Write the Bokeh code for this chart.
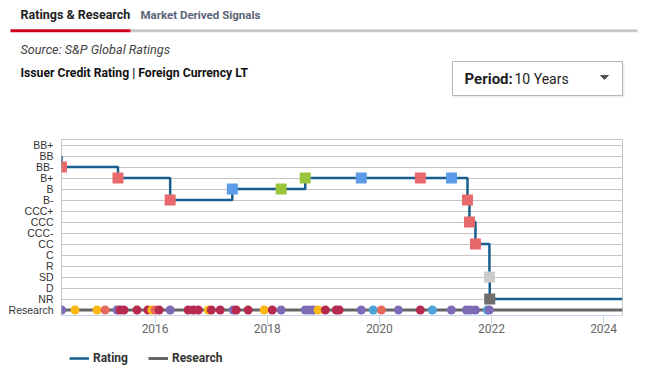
import pandas as pd
from bokeh.plotting import figure
from bokeh.models import (FactorRange, Range1d, FixedTicker, DatetimeTickFormatter,
                          Label, Legend, LegendItem, ColumnDataSource)
from bokeh.layouts import column, row
from bokeh.embed import file_html
from bokeh.resources import INLINE

# ---------------- data ----------------
rating_scale = ["Research", "NR", "D", "SD", "R", "C", "CC", "CCC-", "CCC", "CCC+",
                "B-", "B", "B+", "BB-", "BB", "BB+"]
period_start = "2014-05-01"
period_end = "2024-05-03"
prior_rating = "BB"
rating_dates = ["2014-05-01", "2015-05-04", "2016-04-08", "2017-05-18", "2018-04-01",
                "2018-09-05", "2019-09-05", "2020-09-24", "2021-04-15", "2021-07-28",
                "2021-08-10", "2021-09-18", "2021-12-18", "2021-12-20"]
rating_values = ["BB-", "B+", "B-", "B", "B", "B+", "B+", "B+", "B+", "B-",
                 "CCC", "CC", "SD", "NR"]
rating_actions = ["negative", "negative", "negative", "neutral", "positive",
                  "positive", "neutral", "negative", "neutral", "negative",
                  "negative", "negative", "default", "not rated"]

research_dates = ["2014-05-02", "2014-07-28", "2014-12-18", "2015-02-09", "2015-04-28",
                  "2015-05-18", "2015-06-12", "2015-09-05", "2015-11-15", "2015-12-11",
                  "2016-01-01", "2016-01-27", "2016-04-08", "2016-08-03", "2016-09-05",
                  "2016-10-08", "2016-12-12", "2017-01-01", "2017-02-28", "2017-05-24",
                  "2017-06-12", "2017-08-29", "2017-12-11", "2018-02-02", "2018-04-01",
                  "2018-09-05", "2018-10-01", "2018-10-27", "2018-11-28", "2019-01-14",
                  "2019-03-26", "2019-04-14", "2019-09-05", "2019-11-22", "2020-01-14",
                  "2020-05-04", "2020-09-24", "2020-12-11", "2021-04-14", "2021-07-21",
                  "2021-08-16", "2021-09-18", "2021-12-05", "2021-12-18"]
research_kinds = ["purple", "yellow", "yellow", "salmon", "purple",
                  "crimson", "crimson", "crimson", "crimson", "yellow",
                  "salmon", "crimson", "purple", "crimson", "crimson",
                  "crimson", "yellow", "crimson", "crimson", "purple",
                  "crimson", "crimson", "yellow", "crimson", "purple",
                  "purple", "purple", "purple", "yellow", "crimson",
                  "crimson", "crimson", "purple", "blue", "salmon",
                  "purple", "crimson", "blue", "purple", "purple",
                  "purple", "purple", "blue", "purple"]
x_tick_dates = ["2016-01-01", "2018-01-01", "2020-01-01", "2022-01-01", "2024-01-01"]
legend_labels = ["Rating", "Research"]

# ---------------- styles ----------------
action_colors = {"negative": "#e8696b", "neutral": "#5b9be8", "positive": "#9bc53d",
                 "default": "#cbcbcb", "not rated": "#6e6e6e"}
research_colors = {"purple": "#7f6bb5", "yellow": "#fdb913", "salmon": "#e6695b",
                   "crimson": "#b72a50", "blue": "#4ba3d9"}
RATING_LINE = "#1a5e8f"
RESEARCH_LINE = "#666666"
FONT = "Roboto"
W = 640


def blank_figure(height):
    f = figure(width=W, height=height, x_range=Range1d(0, W), y_range=Range1d(height, 0),
               toolbar_location=None, output_backend="svg", min_border=0,
               min_border_left=0, min_border_right=0, min_border_top=0,
               min_border_bottom=0, x_axis_location=None, y_axis_location=None)
    f.grid.visible = False
    f.outline_line_color = None
    f.background_fill_color = "white"
    f.border_fill_color = "white"
    return f


# ---------------- header (page pixel coordinates) ----------------
HH = 120
h = blank_figure(HH)
h.line([130, 637], [30.3, 30.3], line_width=3, line_color="#c8c8c8")
h.line([10, 130], [30.3, 30.3], line_width=3, line_color="#d0021b")

h.add_layout(Label(x=20, y=14, text="Ratings & Research", text_baseline="middle",
                   text_font=FONT, text_font_size="12.5px", text_font_style="bold",
                   text_color="#222222"))
h.add_layout(Label(x=140, y=14, text="Market Derived Signals", text_baseline="middle",
                   text_font=FONT, text_font_size="11.5px", text_font_style="bold",
                   text_color="#5a6478"))
h.add_layout(Label(x=20, y=49, text="Source: S&P Global Ratings", text_baseline="middle",
                   text_font=FONT, text_font_size="12.7px", text_font_style="italic",
                   text_color="#444444"))
h.add_layout(Label(x=20, y=72, text="Issuer Credit Rating | Foreign Currency LT",
                   text_baseline="middle", text_font=FONT, text_font_size="12.2px",
                   text_font_style="bold", text_color="#111111"))

h.quad(left=453, right=624, top=63, bottom=97, fill_color="#000000", fill_alpha=0.07,
       line_color=None)
h.quad(left=452, right=622, top=61, bottom=95, fill_color="white", line_color="#b5b5b5")
h.add_layout(Label(x=464, y=78, text="Period:", text_baseline="middle",
                   text_font=FONT, text_font_size="15px", text_font_style="bold",
                   text_color="#222222"))
h.add_layout(Label(x=514, y=78, text="10 Years", text_baseline="middle",
                   text_font=FONT, text_font_size="14px", text_color="#222222"))
h.patch([600, 608, 604], [75, 75, 79], fill_color="#555555", line_color="#555555")

# ---------------- chart ----------------
HC = 221
p = figure(width=W, height=HC, x_axis_type="datetime",
           x_range=Range1d(pd.Timestamp(period_start), pd.Timestamp(period_end)),
           y_range=FactorRange(factors=rating_scale),
           toolbar_location=None, output_backend="svg",
           min_border_left=61, min_border_right=W - 622, min_border_top=19,
           min_border_bottom=26)
p.background_fill_color = "white"
p.border_fill_color = "white"
p.outline_line_color = "#c6c6c6"
p.xgrid.visible = False
p.ygrid.grid_line_color = "#c6c6c6"
p.ygrid.grid_line_width = 1

# y axis
p.yaxis.axis_line_color = None
p.yaxis.major_tick_line_color = None
p.yaxis.minor_tick_line_color = None
p.yaxis.major_tick_out = 0
p.yaxis.major_tick_in = 0
p.yaxis.major_label_standoff = 8
p.yaxis.major_label_text_font = "Liberation Sans"
p.yaxis.major_label_text_font_size = "10.5px"
p.yaxis.major_label_text_color = "#333333"

# x axis
p.xaxis.ticker = FixedTicker(ticks=[pd.Timestamp(t).value / 1e6 for t in x_tick_dates])
p.xaxis.formatter = DatetimeTickFormatter(years="%Y", months="%Y", days="%Y",
                                          hours="%Y", minutes="%Y", seconds="%Y")
p.xaxis.axis_line_color = "#ccd6eb"
p.xaxis.major_tick_line_color = "#ccd6eb"
p.xaxis.major_tick_out = 10
p.xaxis.major_tick_in = 0
p.xaxis.minor_tick_line_color = None
p.xaxis.major_label_standoff = -2
p.xaxis.major_label_text_font = FONT
p.xaxis.major_label_text_font_size = "12px"
p.xaxis.major_label_text_color = "#666666"

# research
p.line([pd.Timestamp(period_start), pd.Timestamp(period_end)],
       ["Research", "Research"], line_color=RESEARCH_LINE, line_width=3)
res_src = ColumnDataSource(dict(
    x=pd.to_datetime(research_dates),
    y=["Research"] * len(research_dates),
    c=[research_colors[k] for k in research_kinds]))
p.scatter("x", "y", source=res_src, size=9, fill_color="c", line_color=None)

# rating
line_src = ColumnDataSource(dict(
    x=pd.to_datetime([period_start] + rating_dates + [period_end]),
    y=[prior_rating] + rating_values + [rating_values[-1]]))
p.step("x", "y", source=line_src, mode="after", line_color=RATING_LINE, line_width=2.5)
rat_src = ColumnDataSource(dict(
    x=pd.to_datetime(rating_dates), y=rating_values,
    c=[action_colors[a] for a in rating_actions]))
p.scatter("x", "y", source=rat_src, marker="square", size=11, fill_color="c",
          line_color=None)

# ---------------- legend strip ----------------
HF = 29
f = blank_figure(HF)
leg_rating = f.line([-20, -10], [-5, -5], line_color=RATING_LINE, line_width=2.5)
leg_research = f.line([-20, -10], [-5, -5], line_color=RESEARCH_LINE, line_width=3)
legend = Legend(items=[LegendItem(label=legend_labels[0], renderers=[leg_rating]),
                       LegendItem(label=legend_labels[1], renderers=[leg_research])],
                orientation="horizontal", location=(69, 5), padding=0, margin=0,
                spacing=20, glyph_width=20, glyph_height=14, label_height=14,
                label_standoff=4, border_line_color=None, background_fill_alpha=0,
                label_text_font=FONT, label_text_font_size="12px",
                label_text_font_style="bold", label_text_color="#333333")
f.add_layout(legend)

layout = column(row(h), p, row(f), spacing=0)
open("out.html", "w").write(file_html(layout, INLINE))
